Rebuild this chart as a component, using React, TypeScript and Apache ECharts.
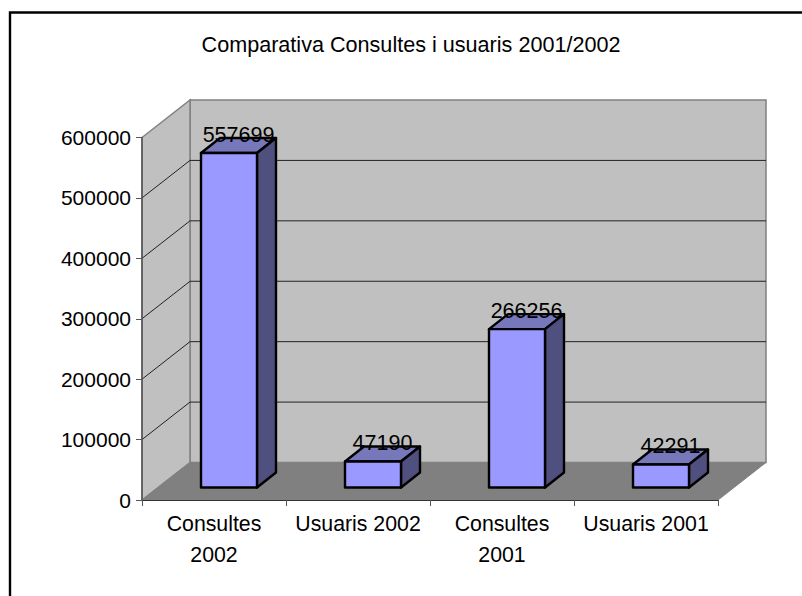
import React, { useEffect, useRef } from "react";
import * as echarts from "echarts";

const categories = ["Consultes\n2002", "Usuaris 2002", "Consultes\n2001", "Usuaris 2001"];
const values = [557699, 47190, 266256, 42291];
const gridTicks = [100000, 200000, 300000, 400000, 500000, 600000];
const titleText = "Comparativa Consultes i usuaris 2001/2002";

const FONT = "'Liberation Sans', Arial, sans-serif";
const DEPTH_X = 48;
const DEPTH_Y = 37.5;
const BAR_W = 56;
const BAR_DX = 15;
const BAR_TOP_DY = 10;
const BAR_BOTTOM_DY = 12.5;
const BAR_DEPTH_X = 19;
const BAR_DEPTH_Y = 15;

export default function App() {
  const ref = useRef<HTMLDivElement>(null);
  useEffect(() => {
    const chart = echarts.init(ref.current!, undefined, { renderer: "svg" });
    chart.setOption({
      animation: false,
      backgroundColor: "#fff",
      title: {
        text: titleText,
        left: 406,
        top: 28,
        textAlign: "center",
        textStyle: { fontFamily: FONT, fontSize: 21.6, fontWeight: "normal", color: "#000" },
      },
      graphic: [
        {
          type: "polyline",
          shape: { points: [[10, 596], [10, 12.5], [802, 12.5]] },
          style: { fill: "none", stroke: "#000", lineWidth: 2.4 },
          silent: true,
        },
      ],
      grid: { left: 142, top: 137.5, width: 576, height: 362.5, containLabel: false },
      xAxis: {
        type: "category",
        data: categories,
        axisLine: { lineStyle: { color: "#333", width: 1 } },
        axisTick: { show: true, alignWithLabel: false, length: 6, lineStyle: { color: "#555" } },
        axisLabel: {
          fontFamily: FONT,
          fontSize: 21.3,
          color: "#000",
          margin: 8,
          lineHeight: 31,
          interval: 0,
        },
        z: 5,
      },
      yAxis: {
        type: "value",
        min: 0,
        max: 600000,
        interval: 100000,
        splitLine: { show: false },
        axisLine: { show: true, lineStyle: { color: "#555", width: 1.5 } },
        axisTick: { show: true, length: 6, lineStyle: { color: "#555" } },
        axisLabel: { fontFamily: FONT, fontSize: 21, color: "#000", margin: 11, formatter: (v: number) => String(v) },
        z: 5,
      },
      series: [
        {
          type: "custom",
          name: "walls",
          coordinateSystem: "cartesian2d",
          silent: true,
          z: 1,
          clip: false,
          data: gridTicks.map((t) => [0, t]),
          renderItem: (params: any, api: any) => {
            const cs = params.coordSys;
            const x0 = cs.x, x1 = cs.x + cs.width, y0 = cs.y, y1 = cs.y + cs.height;
            const children: any[] = [];
            if (params.dataIndex === 0) {
              children.push(
                { type: "polygon", shape: { points: [[x0 + DEPTH_X, y0 - DEPTH_Y], [x1 + DEPTH_X, y0 - DEPTH_Y], [x1 + DEPTH_X, y1 - DEPTH_Y], [x0 + DEPTH_X, y1 - DEPTH_Y]] }, style: { fill: "#C0C0C0", stroke: "#808080", lineWidth: 1.5 } },
                { type: "polygon", shape: { points: [[x0, y0], [x0 + DEPTH_X, y0 - DEPTH_Y], [x0 + DEPTH_X, y1 - DEPTH_Y], [x0, y1]] }, style: { fill: "#C0C0C0", stroke: "#808080", lineWidth: 1.5 } },
                { type: "polygon", shape: { points: [[x0, y1], [x0 + DEPTH_X, y1 - DEPTH_Y], [x1 + DEPTH_X, y1 - DEPTH_Y], [x1, y1]] }, style: { fill: "#808080", stroke: "#808080", lineWidth: 1 } }
              );
            }
            const p = api.coord([0, api.value(1)]);
            if (api.value(1) < 600000) {
              const yy = p[1];
              children.push({
                type: "polyline",
                shape: { points: [[x0, yy], [x0 + DEPTH_X, yy - DEPTH_Y], [x1 + DEPTH_X, yy - DEPTH_Y]] },
                style: { fill: "none", stroke: "#222", lineWidth: 1 },
              });
            }
            return { type: "group", children };
          },
          encode: { x: 0, y: 1 },
        },
        {
          type: "custom",
          name: "bars",
          coordinateSystem: "cartesian2d",
          silent: true,
          z: 3,
          clip: false,
          data: values.map((v, i) => [i, v]),
          renderItem: (_params: any, api: any) => {
            const top = api.coord([api.value(0), api.value(1)]);
            const base = api.coord([api.value(0), 0]);
            const cx = top[0] + BAR_DX;
            const l = cx - BAR_W / 2, r = cx + BAR_W / 2;
            const t = top[1] - BAR_TOP_DY, b = base[1] - BAR_BOTTOM_DY;
            const line = { stroke: "#000", lineWidth: 2.4, lineJoin: "round" };
            return {
              type: "group",
              children: [
                { type: "polygon", shape: { points: [[l, t], [r, t], [r + BAR_DEPTH_X, t - BAR_DEPTH_Y], [l + BAR_DEPTH_X, t - BAR_DEPTH_Y]] }, style: { fill: "#7777BB", ...line } },
                { type: "polygon", shape: { points: [[r, t], [r + BAR_DEPTH_X, t - BAR_DEPTH_Y], [r + BAR_DEPTH_X, b - BAR_DEPTH_Y], [r, b]] }, style: { fill: "#4F4F80", ...line } },
                { type: "rect", shape: { x: l, y: t, width: BAR_W, height: b - t }, style: { fill: "#9999FF", ...line } },
                { type: "text", x: cx + BAR_DEPTH_X / 2, y: t - BAR_DEPTH_Y - 3, style: { text: String(api.value(1)), fontFamily: FONT, fontSize: 21.5, fill: "#000", align: "center", verticalAlign: "middle" } },
              ],
            };
          },
          encode: { x: 0, y: 1 },
        },
      ],
    });
    return () => chart.dispose();
  }, []);
  return <div ref={ref} style={{ position: "absolute", left: 0, top: 0, width: 802, height: 596 }} />;
}
